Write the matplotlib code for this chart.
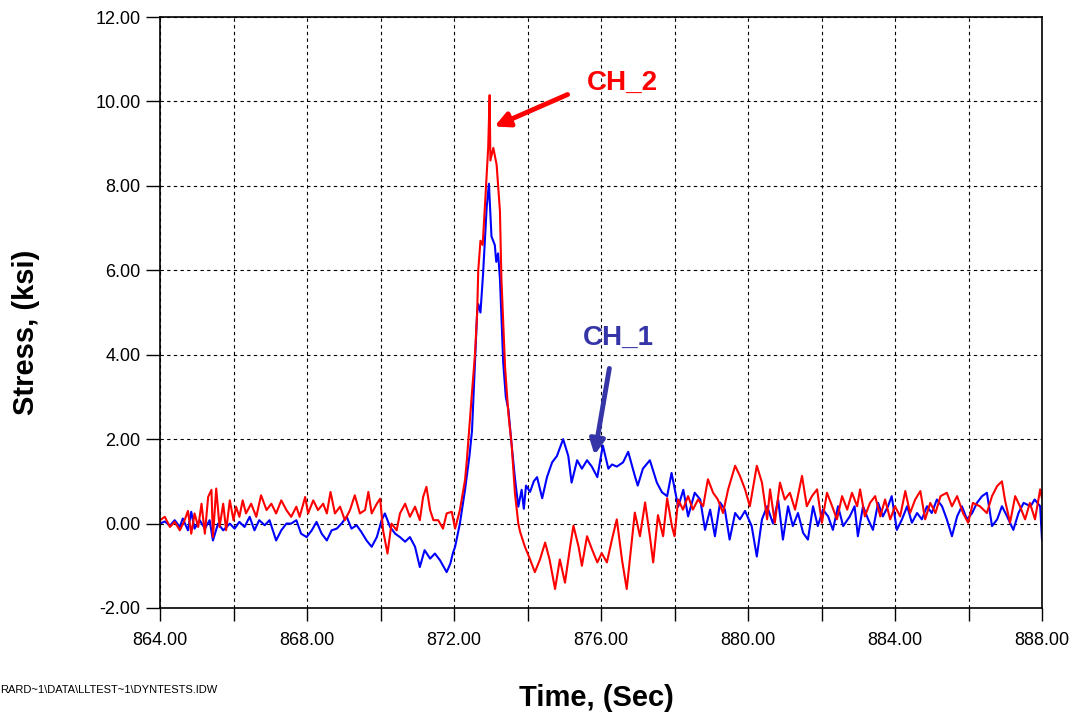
import matplotlib
matplotlib.use("Agg")
import matplotlib.pyplot as plt
from matplotlib.ticker import MultipleLocator, FormatStrFormatter

# CH_1 (blue)
ch1_t = [864.0, 864.13, 864.27, 864.4, 864.54, 864.62, 864.76, 864.85, 864.94, 865.08,
         865.22, 865.35, 865.44, 865.58, 865.72, 865.9, 866.03, 866.16, 866.3, 866.44,
         866.57, 866.7, 866.85, 866.98, 867.16, 867.3, 867.44, 867.57, 867.71, 867.84,
         867.99, 868.13, 868.26, 868.4, 868.54, 868.67, 868.81, 868.94, 869.08, 869.21,
         869.35, 869.48, 869.62, 869.76, 869.9, 870.03, 870.12, 870.26, 870.4, 870.53,
         870.67, 870.8, 870.94, 871.07, 871.2, 871.35, 871.48, 871.62, 871.8, 871.9,
         871.97, 872.03, 872.16, 872.3, 872.42, 872.49, 872.57, 872.63, 872.66, 872.72,
         872.79, 872.89, 872.95, 873.02, 873.11, 873.15, 873.2, 873.25, 873.34, 873.41,
         873.48, 873.57, 873.66, 873.75, 873.84, 873.9, 873.96, 874.07, 874.17, 874.26,
         874.4, 874.53, 874.67, 874.8, 874.97, 875.11, 875.2, 875.35, 875.48, 875.62,
         875.75, 875.9, 876.05, 876.2, 876.3, 876.43, 876.6, 876.74, 876.92, 877.0,
         877.14, 877.33, 877.52, 877.66, 877.8, 877.92, 878.1, 878.24, 878.37, 878.55,
         878.7, 878.83, 878.97, 879.1, 879.24, 879.37, 879.5, 879.65, 879.78, 879.92,
         880.1, 880.24, 880.38, 880.52, 880.68, 880.82, 880.95, 881.09, 881.22, 881.36,
         881.5, 881.63, 881.77, 881.9, 882.04, 882.18, 882.31, 882.45, 882.59, 882.77,
         882.9, 882.99, 883.13, 883.27, 883.4, 883.54, 883.67, 883.81, 883.91, 884.05,
         884.19, 884.33, 884.46, 884.6, 884.73, 884.87, 885.0, 885.14, 885.28, 885.41,
         885.55, 885.69, 885.82, 885.96, 886.1, 886.23, 886.37, 886.5, 886.64, 886.78,
         886.91, 887.05, 887.22, 887.36, 887.5, 887.69, 887.8, 887.95, 888.0]
ch1_v = [0.0, 0.05, -0.05, 0.08, -0.08, 0.12, -0.16, 0.28, -0.12, 0.08,
         -0.12, 0.08, -0.4, 0.0, -0.16, 0.0, -0.12, 0.04, -0.08, 0.16,
         -0.16, 0.08, -0.04, 0.08, -0.4, -0.16, 0.0, 0.0, 0.08, -0.24,
         -0.32, -0.16, 0.04, -0.24, -0.4, -0.16, -0.12, 0.0, 0.16, -0.12,
         -0.04, -0.2, -0.4, -0.55, -0.32, 0.08, 0.24, -0.08, -0.24, -0.32,
         -0.43, -0.32, -0.55, -1.03, -0.63, -0.83, -0.71, -0.87, -1.15, -0.95,
         -0.7, -0.55, 0.0, 0.8, 1.6, 2.2, 3.8, 5.0, 5.2, 5.0,
         5.9, 7.5, 8.05, 6.8, 6.6, 6.2, 6.4, 5.8, 3.8, 3.0,
         2.7, 1.85, 1.06, 0.4, 0.8, 0.35, 0.9, 0.75, 1.0, 1.1,
         0.6, 1.1, 1.45, 1.6, 2.0, 1.6, 0.97, 1.5, 1.3, 1.5,
         1.35, 1.1, 1.85, 1.3, 1.4, 1.35, 1.45, 1.7, 1.13, 0.9,
         1.3, 1.5, 0.97, 0.74, 0.65, 1.2, 0.4, 0.8, 0.17, 0.73,
         0.57, -0.15, 0.33, -0.3, 0.5, 0.33, -0.38, 0.25, 0.1, 0.3,
         -0.06, -0.78, 0.1, 0.41, 0.0, 0.57, -0.38, 0.41, -0.06, 0.25,
         -0.22, -0.38, 0.41, -0.06, 0.33, 0.17, -0.15, 0.41, -0.06, 0.17,
         0.41, -0.3, 0.41, 0.1, -0.15, 0.49, 0.17, 0.41, 0.65, -0.15,
         0.1, 0.41, 0.02, 0.25, 0.1, 0.41, 0.25, 0.57, 0.41, 0.1,
         -0.3, 0.17, 0.41, 0.1, 0.25, 0.49, 0.65, 0.73, -0.06, 0.1,
         0.41, 0.17, -0.15, 0.25, 0.49, 0.41, 0.57, 0.41, -0.38]

# CH_2 (red)
ch2_t = [864.0, 864.13, 864.27, 864.4, 864.54, 864.67, 864.76, 864.85, 864.94, 865.04,
         865.13, 865.22, 865.31, 865.4, 865.44, 865.53, 865.62, 865.72, 865.8, 865.9,
         866.0, 866.07, 866.16, 866.25, 866.34, 866.48, 866.62, 866.75, 866.9, 867.03,
         867.16, 867.3, 867.44, 867.57, 867.71, 867.8, 867.95, 868.03, 868.17, 868.3,
         868.44, 868.54, 868.64, 868.76, 868.9, 869.03, 869.17, 869.3, 869.44, 869.58,
         869.67, 869.76, 869.9, 869.99, 870.07, 870.19, 870.3, 870.44, 870.53, 870.67,
         870.8, 870.94, 871.07, 871.16, 871.25, 871.35, 871.44, 871.57, 871.7, 871.8,
         871.94, 872.03, 872.16, 872.3, 872.35, 872.48, 872.57, 872.63, 872.66, 872.72,
         872.78, 872.84, 872.93, 872.97, 872.99, 873.07, 873.16, 873.25, 873.29, 873.39,
         873.48, 873.57, 873.66, 873.75, 873.8, 873.93, 874.07, 874.2, 874.34, 874.48,
         874.6, 874.75, 874.88, 875.02, 875.16, 875.25, 875.39, 875.48, 875.62, 875.75,
         875.9, 876.02, 876.16, 876.3, 876.43, 876.57, 876.7, 876.85, 876.92, 877.06,
         877.2, 877.33, 877.42, 877.55, 877.69, 877.8, 877.93, 878.0, 878.1, 878.23,
         878.37, 878.5, 878.64, 878.78, 878.91, 879.05, 879.18, 879.32, 879.46, 879.65,
         879.78, 879.92, 880.05, 880.24, 880.38, 880.52, 880.6, 880.73, 880.87, 881.0,
         881.14, 881.28, 881.47, 881.6, 881.74, 881.88, 882.01, 882.15, 882.29, 882.42,
         882.56, 882.7, 882.83, 882.97, 883.05, 883.18, 883.32, 883.46, 883.6, 883.73,
         883.87, 884.0, 884.14, 884.28, 884.41, 884.55, 884.69, 884.82, 884.96, 885.1,
         885.24, 885.41, 885.55, 885.69, 885.85, 885.99, 886.12, 886.31, 886.5, 886.64,
         886.78, 886.91, 886.99, 887.13, 887.27, 887.4, 887.54, 887.67, 887.81, 887.95,
         888.0]
ch2_v = [0.08, 0.16, -0.08, 0.04, -0.16, 0.08, 0.3, -0.24, 0.24, -0.08,
         0.47, -0.24, 0.63, 0.8, -0.32, 0.83, -0.08, 0.47, -0.16, 0.55,
         0.08, 0.4, 0.16, 0.55, 0.24, 0.47, 0.16, 0.67, 0.32, 0.47,
         0.24, 0.55, 0.32, 0.16, 0.4, 0.16, 0.63, 0.24, 0.55, 0.32,
         0.47, 0.24, 0.75, 0.24, 0.4, 0.08, 0.32, 0.67, 0.24, 0.32,
         0.75, 0.24, 0.47, 0.59, -0.16, -0.71, 0.0, -0.16, 0.24, 0.47,
         0.16, 0.4, 0.08, 0.63, 0.87, 0.32, 0.08, 0.08, -0.12, 0.24,
         0.28, -0.12, 0.32, 1.03, 1.5, 3.0, 4.0, 5.0, 6.0, 6.7,
         6.6, 7.5, 8.9, 10.15, 8.6, 8.9, 8.5, 7.4, 5.8, 3.7,
         2.6, 1.85, 0.7, 0.0, -0.2, -0.55, -0.85, -1.15, -0.85, -0.45,
         -0.85, -1.55, -0.85, -1.4, -0.55, -0.05, -0.55, -1.0, -0.3, -0.6,
         -0.92, -0.7, -0.92, -0.37, 0.1, -0.85, -1.55, -0.3, 0.26, -0.3,
         0.5, -0.3, -0.92, 0.2, -0.3, 0.6, -0.06, -0.3, 0.57, 0.33,
         0.65, 0.33, 0.57, 0.41, 1.05, 0.73, 0.57, 0.25, 0.81, 1.37,
         1.13, 0.81, 0.41, 1.37, 0.97, 0.1, 0.81, 0.02, 0.97, 0.57,
         0.73, 0.33, 1.13, 0.41, 0.65, 0.81, 0.02, 0.73, 0.41, 0.1,
         0.65, 0.33, 0.73, 0.41, 0.81, 0.17, 0.49, 0.65, 0.17, 0.57,
         0.1, 0.41, 0.17, 0.77, 0.25, 0.57, 0.77, 0.1, 0.49, 0.25,
         0.65, 0.73, 0.41, 0.65, 0.25, 0.02, 0.49, 0.41, 0.25, 0.65,
         0.89, 1.0, 0.57, 0.02, 0.65, 0.41, 0.1, 0.49, 0.1, 0.81,
         0.6]

x_ticks = [864, 868, 872, 876, 880, 884, 888]
y_ticks = [-2, 0, 2, 4, 6, 8, 10, 12]

narrow = ['Liberation Sans Narrow', 'Liberation Sans', 'DejaVu Sans']
bold = ['Liberation Sans', 'DejaVu Sans']
ch1_color = '#3535a8'

fig = plt.figure(figsize=(10.76, 7.19), dpi=100)
ax = fig.add_axes([160 / 1076, 111 / 719, 882 / 1076, 591 / 719])

ax.plot(ch1_t, ch1_v, color='#0000ff', lw=1.5)
ax.plot(ch2_t, ch2_v, color='#ff0000', lw=1.5)

ax.set_xlim(864, 888)
ax.set_ylim(-2, 12)
ax.set_xticks(x_ticks)
ax.xaxis.set_minor_locator(MultipleLocator(2))
ax.set_yticks(y_ticks)
ax.xaxis.set_major_formatter(FormatStrFormatter('%.2f'))
ax.yaxis.set_major_formatter(FormatStrFormatter('%.2f'))

ax.grid(True, which='both', axis='x', color='black', ls=(0, (3, 3)), lw=0.8)
ax.grid(True, which='major', axis='y', color='black', ls=(0, (3, 3)), lw=0.8)
ax.tick_params(axis='x', which='both', direction='out', length=9, width=1, pad=8)
ax.tick_params(axis='y', direction='out', length=10, width=1, pad=4)
for lab in ax.get_xticklabels() + ax.get_yticklabels():
    lab.set_family(narrow)
    lab.set_fontsize(13)
for sp in ax.spines.values():
    sp.set_linewidth(1.2)

ax.set_xlabel('Time, (Sec)', family=bold, fontsize=21, fontweight='bold')
ax.xaxis.set_label_coords((596 - 160) / 882, -(684 - 608) / 591)
ax.set_ylabel('Stress, (ksi)', family=bold, fontsize=21, fontweight='bold')
ax.yaxis.set_label_coords(-(160 - 40) / 882, (608 - 332) / 591)

# channel callouts
ax.annotate('', xy=(873.03, 9.38), xytext=(875.16, 10.19),
            arrowprops=dict(arrowstyle='-|>', color='#ff0000', lw=3.5, mutation_scale=22))
ax.text(876.57, 10.43, 'CH_2', color='#ff0000', family=bold, fontsize=20,
        fontweight='bold', ha='center', va='center')
ax.annotate('', xy=(875.81, 1.56), xytext=(876.24, 3.74),
            arrowprops=dict(arrowstyle='-|>', color=ch1_color, lw=3.5, mutation_scale=22))
ax.text(876.46, 4.41, 'CH_1', color=ch1_color, family=bold, fontsize=20,
        fontweight='bold', ha='center', va='center')

fig.text(0, 1 - 690 / 719, 'RARD~1\\DATA\\LLTEST~1\\DYNTESTS.IDW', family=narrow,
         fontsize=8, ha='left', va='center')

fig.savefig('out.png', dpi=100)
